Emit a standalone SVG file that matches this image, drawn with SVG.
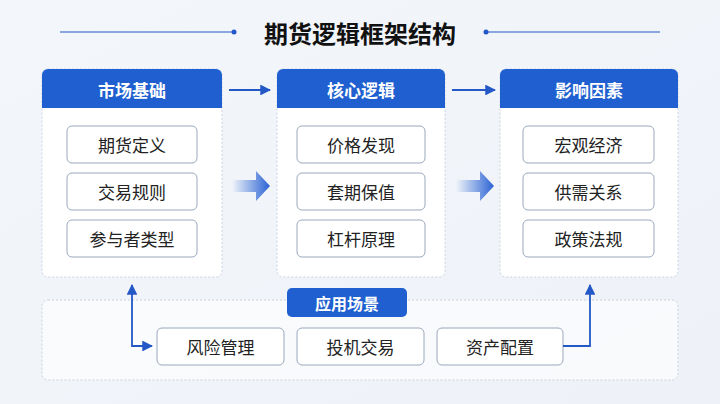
<svg xmlns="http://www.w3.org/2000/svg" width="720" height="404" viewBox="0 0 720 404">
<style>
text{font-family:"Noto Sans CJK SC","Noto Sans",sans-serif;text-anchor:middle;dominant-baseline:central}
.panel{fill:#fff;stroke:#c9d3e0;stroke-dasharray:2 2}
.hdr{fill:#1f5fd0}
.ht{fill:#fff;font-size:17px;font-weight:bold}
.item{fill:#fff;stroke:#9aa8bd;stroke-width:1}
.it{fill:#222;font-size:17px}
.ln{stroke:#2458c6;stroke-width:1.8;fill:none}
</style>
<defs>
<marker id="ah" viewBox="0 0 10 10" refX="9" refY="5" markerWidth="6" markerHeight="6" orient="auto"><path d="M0,0L10,5L0,10z" fill="#2458c6"/></marker>
<linearGradient id="ga" x1="0" x2="1"><stop offset="0" stop-color="#2a63d4" stop-opacity="0"/><stop offset="1" stop-color="#2a63d4"/></linearGradient>
<linearGradient id="bg" x1="0" y1="0" x2="1" y2="1"><stop offset="0" stop-color="#f3f6fa"/><stop offset="1" stop-color="#eef2f8"/></linearGradient>
</defs>
<rect width="720" height="404" fill="url(#bg)"/>
<g id="title">
<line x1="60" y1="32" x2="234" y2="32" stroke="#2458c6" stroke-width="1.2"/><circle cx="234" cy="32" r="2.5" fill="#2458c6"/>
<line x1="486" y1="32" x2="660" y2="32" stroke="#2458c6" stroke-width="1.2"/><circle cx="486" cy="32" r="2.5" fill="#2458c6"/>
<text x="360" y="32" style="font-size:24px;font-weight:bold;fill:#111">期货逻辑框架结构</text>
</g>
<g id="bottom">
<rect x="42" y="300" width="636" height="80" rx="6" class="panel" fill-opacity="0.6"/>
<rect x="287" y="288" width="120" height="29" rx="5" class="hdr"/><text x="347" y="302.5" class="ht" style="font-size:16px">应用场景</text>
<rect x="157" y="328" width="127" height="37" rx="5" class="item"/><text x="220.5" y="346.5" class="it">风险管理</text>
<rect x="297" y="328" width="127" height="37" rx="5" class="item"/><text x="360.5" y="346.5" class="it">投机交易</text>
<rect x="437" y="328" width="126" height="37" rx="5" class="item"/><text x="500" y="346.5" class="it">资产配置</text>
</g>
<g id="market">
<rect x="42" y="69" width="180" height="208" rx="6" class="panel"/>
<path d="M42,108V75a6,6 0 0 1 6-6h168a6,6 0 0 1 6,6v33z" class="hdr"/><text x="132" y="89" class="ht">市场基础</text>
<rect x="67" y="126" width="130" height="37" rx="5" class="item"/><text x="132" y="144.5" class="it">期货定义</text>
<rect x="67" y="173" width="130" height="37" rx="5" class="item"/><text x="132" y="191.5" class="it">交易规则</text>
<rect x="67" y="220" width="130" height="37" rx="5" class="item"/><text x="132" y="238.5" class="it">参与者类型</text>
</g>
<g id="core">
<rect x="277" y="69" width="168" height="208" rx="6" class="panel"/>
<path d="M277,108V75a6,6 0 0 1 6-6h156a6,6 0 0 1 6,6v33z" class="hdr"/><text x="361" y="89" class="ht">核心逻辑</text>
<rect x="297" y="126" width="128" height="37" rx="5" class="item"/><text x="361" y="144.5" class="it">价格发现</text>
<rect x="297" y="173" width="128" height="37" rx="5" class="item"/><text x="361" y="191.5" class="it">套期保值</text>
<rect x="297" y="220" width="128" height="37" rx="5" class="item"/><text x="361" y="238.5" class="it">杠杆原理</text>
</g>
<g id="impact">
<rect x="500" y="69" width="178" height="208" rx="6" class="panel"/>
<path d="M500,108V75a6,6 0 0 1 6-6h166a6,6 0 0 1 6,6v33z" class="hdr"/><text x="589" y="89" class="ht">影响因素</text>
<rect x="523" y="126" width="131" height="37" rx="5" class="item"/><text x="588.5" y="144.5" class="it">宏观经济</text>
<rect x="523" y="173" width="131" height="37" rx="5" class="item"/><text x="588.5" y="191.5" class="it">供需关系</text>
<rect x="523" y="220" width="131" height="37" rx="5" class="item"/><text x="588.5" y="238.5" class="it">政策法规</text>
</g>
<g id="connectors">
<line x1="229" y1="90" x2="270" y2="90" class="ln" marker-end="url(#ah)"/>
<line x1="452" y1="90" x2="495" y2="90" class="ln" marker-end="url(#ah)"/>
<path d="M232,180h24v-9l14,15l-14,15v-9h-24z" fill="url(#ga)"/>
<path d="M456,180h24v-9l14,15l-14,15v-9h-24z" fill="url(#ga)"/>
<path d="M152,346H132V285" class="ln" marker-end="url(#ah)"/>
<path d="M132,346H152" class="ln" marker-end="url(#ah)"/>
<path d="M563,346H590V285" class="ln" marker-end="url(#ah)"/>
</g>
</svg>
